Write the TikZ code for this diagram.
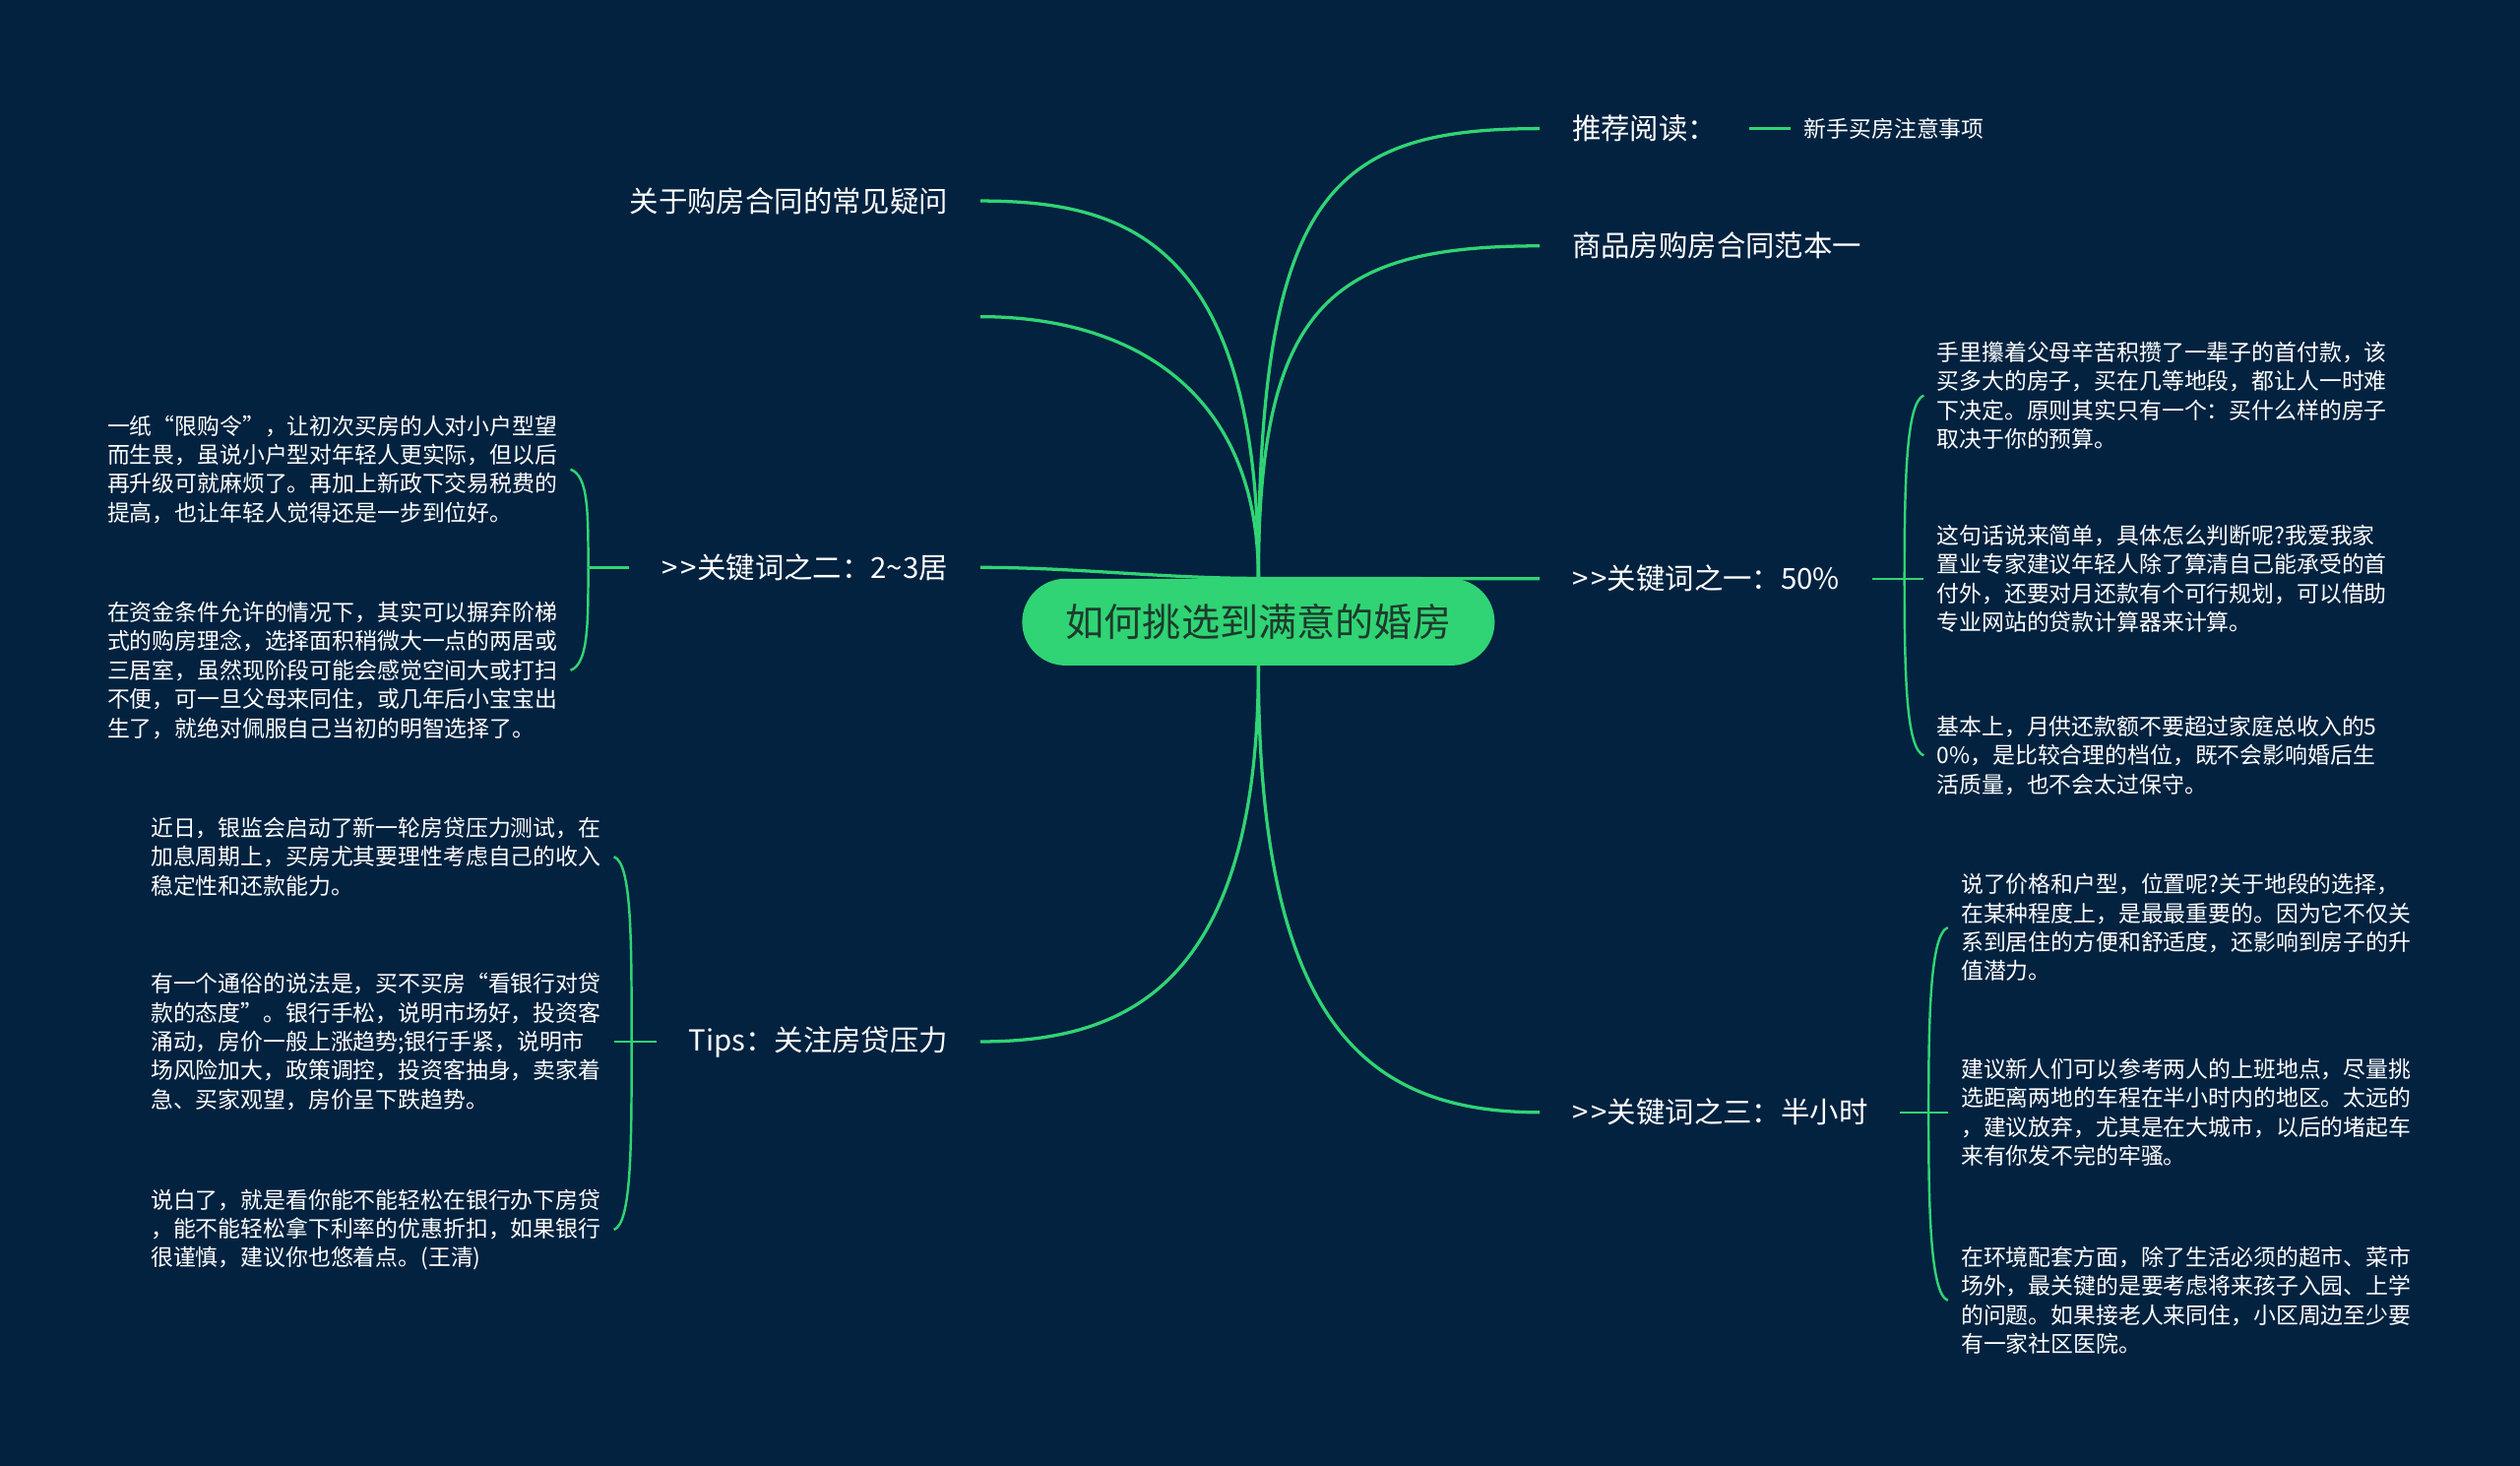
\documentclass[tikz,border=0pt]{standalone}
\usepackage{fontspec}
\setmainfont{Noto Sans CJK SC}
\usepackage{xcolor}
\usepackage{tikz}
\usetikzlibrary{positioning}
\definecolor{navy}{RGB}{2,34,64}
\definecolor{mint}{RGB}{48,212,116}
\definecolor{deepgreen}{RGB}{30,58,45}
\newcommand{\gtgt}{{>}\kern2pt{>}}

\begin{document}
\begin{tikzpicture}[x=1pt, y=1pt,
        topic/.style={fill=mint, rounded corners=27pt, minimum width=294pt,
                      minimum height=54pt, text=deepgreen,
                      font=\fontsize{24}{28}\selectfont},
        branch/.style={text=white, inner xsep=20pt, inner ysep=4pt,
                       font=\fontsize{18}{22}\selectfont},
        leaf/.style={text=white, inner xsep=8pt, inner ysep=2pt, align=left,
                     font=\fontsize{14}{18}\selectfont},
        link/.style={draw=mint, line width=2pt},
        brace/.style={draw=mint, line width=1.5pt}]
      \fill[navy] (0,0) rectangle (1568,-912);
      \node[topic] (title) at (783,-387) {如何挑选到满意的婚房};

      \node[branch, anchor=west] (read) at (958,-80) {推荐阅读：};
      \node[leaf, right=26pt of read] (tip) {新手买房注意事项};
      \node[branch, anchor=west] (model) at (958,-153) {商品房购房合同范本一};
      \node[branch, anchor=west] (kw1) at (958,-360) {\gtgt 关键词之一：50\%};
      \node[branch, anchor=west] (kw3) at (958,-692) {\gtgt 关键词之三：半小时};
      \node[branch, anchor=east] (faq) at (610,-125) {关于购房合同的常见疑问};
      \coordinate (blank) at (610,-197);
      \node[branch, anchor=east] (kw2) at (610,-353) {\gtgt 关键词之二：2\textasciitilde3居};
      \node[branch, anchor=east] (tips) at (610,-648) {Tips：关注房贷压力};

      \node[leaf, anchor=west] (r1) at (1197,-246)
        {手里攥着父母辛苦积攒了一辈子的首付款，该\\买多大的房子，买在几等地段，都让人一时难\\下决定。原则其实只有一个：买什么样的房子\\取决于你的预算。};
      \node[leaf, anchor=west] (r2) at (1197,-360)
        {这句话说来简单，具体怎么判断呢?我爱我家\\置业专家建议年轻人除了算清自己能承受的首\\付外，还要对月还款有个可行规划，可以借助\\专业网站的贷款计算器来计算。};
      \node[leaf, anchor=west] (r3) at (1197,-470)
        {基本上，月供还款额不要超过家庭总收入的5\\0\%，是比较合理的档位，既不会影响婚后生\\活质量，也不会太过保守。};
      \node[leaf, anchor=west] (s1) at (1212,-577)
        {说了价格和户型，位置呢?关于地段的选择，\\在某种程度上，是最最重要的。因为它不仅关\\系到居住的方便和舒适度，还影响到房子的升\\值潜力。};
      \node[leaf, anchor=west] (s2) at (1212,-692)
        {建议新人们可以参考两人的上班地点，尽量挑\\选距离两地的车程在半小时内的地区。太远的\\，建议放弃，尤其是在大城市，以后的堵起车\\来有你发不完的牢骚。};
      \node[leaf, anchor=west] (s3) at (1212,-809)
        {在环境配套方面，除了生活必须的超市、菜市\\场外，最关键的是要考虑将来孩子入园、上学\\的问题。如果接老人来同住，小区周边至少要\\有一家社区医院。};
      \node[leaf, anchor=east] (c1) at (355,-292)
        {一纸“限购令”，让初次买房的人对小户型望\\而生畏，虽说小户型对年轻人更实际，但以后\\再升级可就麻烦了。再加上新政下交易税费的\\提高，也让年轻人觉得还是一步到位好。};
      \node[leaf, anchor=east] (c2) at (355,-417)
        {在资金条件允许的情况下，其实可以摒弃阶梯\\式的购房理念，选择面积稍微大一点的两居或\\三居室，虽然现阶段可能会感觉空间大或打扫\\不便，可一旦父母来同住，或几年后小宝宝出\\生了，就绝对佩服自己当初的明智选择了。};
      \node[leaf, anchor=east] (t1) at (382,-533)
        {近日，银监会启动了新一轮房贷压力测试，在\\加息周期上，买房尤其要理性考虑自己的收入\\稳定性和还款能力。};
      \node[leaf, anchor=east] (t2) at (382,-648)
        {有一个通俗的说法是，买不买房“看银行对贷\\款的态度”。银行手松，说明市场好，投资客\\涌动，房价一般上涨趋势;银行手紧，说明市\\场风险加大，政策调控，投资客抽身，卖家着\\急、买家观望，房价呈下跌趋势。};
      \node[leaf, anchor=east] (t3) at (382,-765)
        {说白了，就是看你能不能轻松在银行办下房贷\\，能不能轻松拿下利率的优惠折扣，如果银行\\很谨慎，建议你也悠着点。(王清)};

      \draw[link] (title.north) .. controls +(0,240) and +(-130,0) .. (read.west);
      \draw[link] (title.north) .. controls +(0,170) and +(-130,0) .. (model.west);
      \draw[link] (title.north) .. controls +(60,0) and +(-60,0) .. (kw1.west);
      \draw[link] (title.south) .. controls +(0,-220) and +(-110,0) .. (kw3.west);
      \draw[link] (title.north) .. controls +(0,210) and +(90,0) .. (faq.east);
      \draw[link] (title.north) .. controls +(0,120) and +(90,0) .. (blank);
      \draw[link] (title.north) .. controls +(-60,0) and +(60,0) .. (kw2.east);
      \draw[link] (title.south) .. controls +(0,-200) and +(90,0) .. (tips.east);
      \draw[link] (read) -- (tip);

      \coordinate (fork1) at (1185,-360);
      \coordinate (fork3) at (1200,-692);
      \coordinate (fork2) at (366,-353);
      \coordinate (fork4) at (393,-648);
      \draw[brace] (kw1.east) -- (r2.west);
      \draw[brace] (fork1) .. controls +(0,60) and +(-11,-4) .. (r1.west);
      \draw[brace] (fork1) .. controls +(0,-60) and +(-11,4) .. (r3.west);
      \draw[brace] (kw3.east) -- (s2.west);
      \draw[brace] (fork3) .. controls +(0,60) and +(-11,-4) .. (s1.west);
      \draw[brace] (fork3) .. controls +(0,-60) and +(-11,4) .. (s3.west);
      \draw[brace] (kw2.west) -- (fork2);
      \draw[brace] (fork2) .. controls +(0,35) and +(11,-4) .. (c1.east);
      \draw[brace] (fork2) .. controls +(0,-35) and +(11,4) .. (c2.east);
      \draw[brace] (tips.west) -- (t2.east);
      \draw[brace] (fork4) .. controls +(0,65) and +(11,-4) .. (t1.east);
      \draw[brace] (fork4) .. controls +(0,-65) and +(11,4) .. (t3.east);
    \end{tikzpicture}
\end{document}
